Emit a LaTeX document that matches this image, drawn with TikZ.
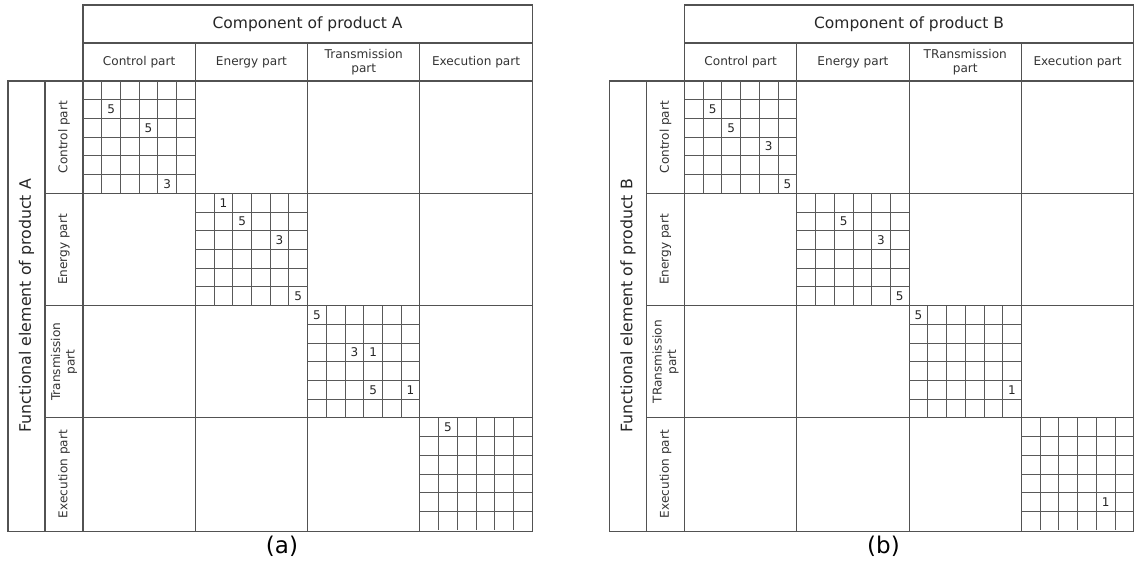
\documentclass[tikz,border=0pt]{standalone}
\usepackage{fontspec}
\setmainfont{DejaVu Sans}
\newcommand\mytable[5]{%
\begin{scope}[xshift=#2pt]
\path (307.6,24) node[bigtxt] (#1-head) {Component of product #1};
\foreach \i/\t in {0/Control part,1/Energy part,2/#3\\part,3/Execution part}{
  \path (83+\i*112.3+56.15,62) node[smalltxt] (#1-c\i) {\t};
  \path (64,81+\i*112.3+56.15) node[smalltxt,rotate=90] (#1-r\i) {\t};
}
\path (26.5,305.8) node[sidetxt,rotate=90] (#1-side) {Functional element of product #1};
\draw[myframe] (83,5) rectangle (532.2,531.2);
\draw[myframe] (8,81) rectangle (532.2,531.2);
\draw[myframe] (83,43) -- (532.2,43);
\draw[myframe] (45,81) -- (45,531.2);
\foreach \i in {1,2,3}{
  \draw[myframe] (83+\i*112.3,43) -- (83+\i*112.3,531.2);
  \draw[myframe] (45,81+\i*112.3) -- (532.2,81+\i*112.3);
}
\foreach \k in {0,...,3}{\foreach \j in {1,...,5}{
  \draw[mygrid] (83+\k*112.3+\j*18.7167,81+\k*112.3) -- ++(0,112.3);
  \draw[mygrid] (83+\k*112.3,81+\k*112.3+\j*18.7167) -- ++(112.3,0);
}}
\foreach \k/\r/\c/\v in {#4}{
  \path (83+\k*112.3+\c*18.7167+9.36,81+\k*112.3+\r*18.7167+9.36) node[numtxt] (#1-n\k\r\c) {\v};
}
\path (282,546) node[capt] (#1-cap) {#5};
\end{scope}}
\begin{document}
\begin{tikzpicture}[x=1pt,y=-1pt,
  myframe/.style={draw=black!68, line width=1.1pt},
  mygrid/.style={draw=black!65, line width=0.9pt},
  smalltxt/.style={font=\fontsize{12.1}{14.5}\selectfont, text=black!80, align=center, inner sep=0pt},
  bigtxt/.style={font=\fontsize{15.5}{18}\selectfont, text=black!85, inner sep=0pt},
  sidetxt/.style={font=\fontsize{15.8}{18}\selectfont, text=black!85, inner sep=0pt},
  numtxt/.style={font=\fontsize{12}{14}\selectfont, text=black!85, inner sep=0pt},
  capt/.style={font=\fontsize{23}{26}\selectfont, text=black, inner sep=0pt}]
\useasboundingbox (0,0) rectangle (1134,565);
\mytable{A}{0}{Transmission}{0/1/1/5,0/2/3/5,0/5/4/3,1/0/1/1,1/1/2/5,1/2/4/3,1/5/5/5,2/0/0/5,2/2/2/3,2/2/3/1,2/4/3/5,2/4/5/1,3/0/1/5}{(a)}
\mytable{B}{601.5}{TRansmission}{0/1/1/5,0/2/2/5,0/3/4/3,0/5/5/5,1/1/2/5,1/2/4/3,1/5/5/5,2/0/0/5,2/4/5/1,3/4/4/1}{(b)}
\end{tikzpicture}
\end{document}
